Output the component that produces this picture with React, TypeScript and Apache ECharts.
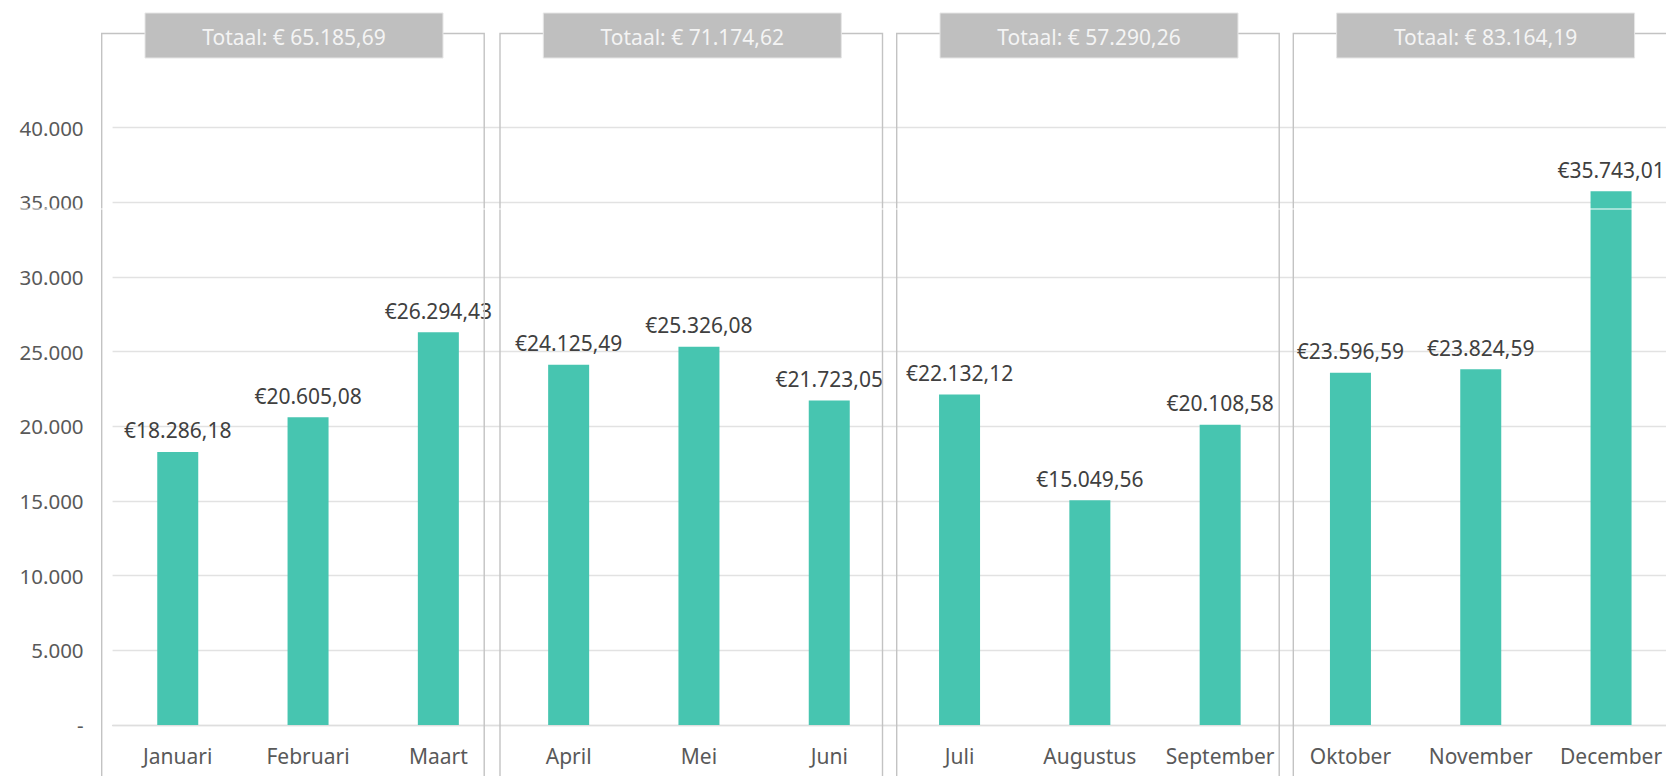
import React, { useEffect, useRef } from "react";
import * as echarts from "echarts";

const months = [
  "Januari", "Februari", "Maart", "April", "Mei", "Juni",
  "Juli", "Augustus", "September", "Oktober", "November", "December",
];
const revenue = [
  18286.18, 20605.08, 26294.43, 24125.49, 25326.08, 21723.05,
  22132.12, 15049.56, 20108.58, 23596.59, 23824.59, 35743.01,
];
const yTicks = [0, 5000, 10000, 15000, 20000, 25000, 30000, 35000, 40000];
const quarterSize = 3;

// layout (pixels)
const W = 1666;
const H = 776;
const CANVAS_W = 1700;
const GRID_LEFT = 112.6;
const GRID_TOP = 127.7;
const GRID_W = 1563.6;
const GRID_H = 597.3;
const PANEL_LEFTS = [101.7, 500, 896.7, 1293.3];
const PANEL_W = 382.5;
const PANEL_TOP = 33.5;
const TITLE_OFFSET = 43.3;
const TITLE_W = 298;
const TITLE_TOP = 13;
const TITLE_H = 45;

const FONT = "'Noto Sans', 'Open Sans', sans-serif";

function nlNumber(v: number, decimals: number): string {
  const fixed = v.toFixed(decimals);
  const [intPart, dec] = fixed.split(".");
  const grouped = intPart.replace(/\B(?=(\d{3})+(?!\d))/g, ".");
  return dec !== undefined ? grouped + "," + dec : grouped;
}

export default function App() {
  const ref = useRef<HTMLDivElement>(null);

  useEffect(() => {
    document.body.style.margin = "0";
    if (!ref.current) return;
    const chart = echarts.init(ref.current, undefined, { renderer: "svg" });

    const totals: number[] = [];
    for (let q = 0; q < revenue.length / quarterSize; q++) {
      let s = 0;
      for (let i = q * quarterSize; i < (q + 1) * quarterSize; i++) s += revenue[i];
      totals.push(Math.round(s * 100) / 100);
    }

    const graphics: any[] = [];
    PANEL_LEFTS.forEach((left, q) => {
      graphics.push({
        type: "rect",
        z: 50,
        silent: true,
        shape: { x: left, y: PANEL_TOP, width: PANEL_W, height: H + 40 - PANEL_TOP },
        style: { fill: "none", stroke: "#c3c3c3", lineWidth: 1.4 },
      });
      graphics.push({
        type: "rect",
        z: 51,
        silent: true,
        shape: { x: left + TITLE_OFFSET, y: TITLE_TOP, width: TITLE_W, height: TITLE_H },
        style: { fill: "#bfbfbf", stroke: "#e6e6e6", lineWidth: 1 },
      });
      graphics.push({
        type: "text",
        z: 52,
        silent: true,
        x: left + TITLE_OFFSET + TITLE_W / 2,
        y: TITLE_TOP + TITLE_H / 2 + 1,
        style: {
          text: "Totaal: € " + nlNumber(totals[q], 2),
          fill: "#f4f4f4",
          font: "21px " + FONT,
          align: "center",
          verticalAlign: "middle",
        },
      });
    });
    graphics.push({
      type: "line",
      z: 60,
      silent: true,
      shape: { x1: 0, y1: 209, x2: CANVAS_W, y2: 209 },
      style: { stroke: "#ffffff", lineWidth: 1 },
    });

    chart.setOption({
      animation: false,
      grid: { left: GRID_LEFT, top: GRID_TOP, width: GRID_W, height: GRID_H, containLabel: false },
      xAxis: {
        type: "category",
        data: months,
        axisLine: { show: true, lineStyle: { color: "#dedede", width: 1.4 } },
        axisTick: { show: false },
        axisLabel: {
          color: "#595959",
          fontFamily: FONT,
          fontSize: 21,
          margin: 20,
          interval: 0,
        },
      },
      yAxis: {
        type: "value",
        min: yTicks[0],
        max: yTicks[yTicks.length - 1],
        interval: yTicks[1] - yTicks[0],
        axisLine: { show: false },
        axisTick: { show: false },
        splitLine: { lineStyle: { color: "#e2e2e2", width: 1.4 } },
        axisLabel: {
          color: "#595959",
          fontFamily: FONT,
          fontSize: 20.5,
          margin: 29,
          formatter: (v: number) => (v === 0 ? "-" : nlNumber(v, 0)),
        },
      },
      series: [
        {
          type: "bar",
          data: revenue,
          barWidth: 41,
          itemStyle: { color: "#47c5b0" },
          label: {
            show: true,
            position: "top",
            distance: 11,
            color: "#404040",
            fontFamily: FONT,
            fontSize: 21,
            formatter: (p: any) => "€" + nlNumber(p.value, 2),
          },
        },
      ],
      graphic: graphics,
    });

    return () => chart.dispose();
  }, []);

  return (
    <div style={{ width: W, height: H, overflow: "hidden", position: "relative" }}>
      <div ref={ref} style={{ width: CANVAS_W, height: H }} />
    </div>
  );
}
